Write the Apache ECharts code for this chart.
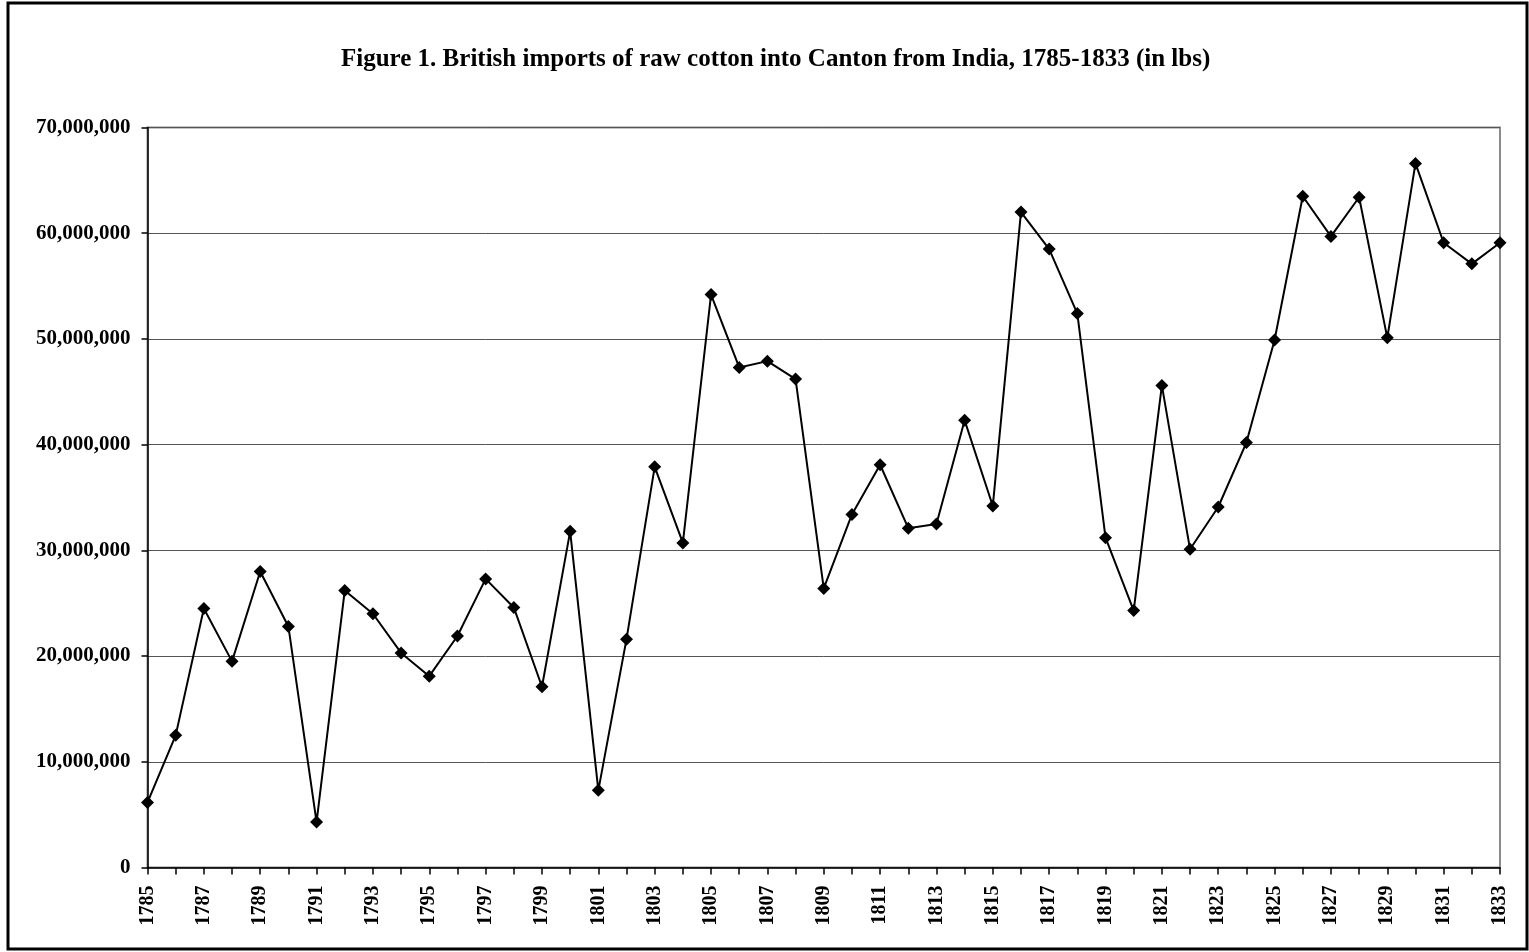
<!DOCTYPE html>
<html>
<head>
<meta charset="utf-8">
<title>British imports of raw cotton into Canton</title>
<script src="https://cdn.jsdelivr.net/npm/echarts@6/dist/echarts.min.js"></script>
<style>
    html, body { margin: 0; padding: 0; background: #fff; }
    #chart { width: 1529px; height: 952px; }
</style>
</head>
<body>
<div id="chart"></div>
<script>
// years 1785 - 1833
var years = [];
for (var y = 1785; y <= 1833; y++) {
    years.push(String(y));
}

// raw cotton imports, lbs
var imports = [
    6150000, 12500000, 24500000, 19500000, 28000000, 22800000, 4300000, 26200000, 24000000, 20300000,
    18100000, 21900000, 27300000, 24600000, 17100000, 31800000, 7300000, 21600000, 37900000, 30700000,
    54200000, 47300000, 47900000, 46200000, 26400000, 33400000, 38100000, 32100000, 32500000, 42300000,
    34200000, 62000000, 58500000, 52400000, 31200000, 24300000, 45600000, 30100000, 34100000, 40200000,
    49900000, 63500000, 59700000, 63400000, 50100000, 66600000, 59100000, 57100000, 59100000
];

var fontFamily = '"Liberation Serif", "Times New Roman", serif';

var myChart = echarts.init(document.getElementById('chart'));

myChart.setOption({
    animation: false,
    backgroundColor: '#fff',
    title: {
        text: 'Figure 1. British imports of raw cotton into Canton from India, 1785-1833 (in lbs)',
        left: 336,
        top: 42,
        textStyle: {
            fontFamily: fontFamily,
            fontWeight: 'bold',
            fontSize: 25,
            color: '#000'
        }
    },
    graphic: [{
        type: 'rect',
        shape: { x: 8, y: 3, width: 1519, height: 946 },
        style: { fill: 'none', stroke: '#000', lineWidth: 3 },
        silent: true
    }],
    grid: {
        left: 147.5,
        right: 29,
        top: 127.5,
        bottom: 84.5,
        show: true,
        borderColor: '#8c8c8c',
        borderWidth: 2,
        backgroundColor: 'transparent'
    },
    xAxis: {
        type: 'category',
        data: years,
        boundaryGap: false,
        axisLine: { lineStyle: { color: '#000', width: 1.5 } },
        axisTick: {
            show: true,
            interval: 0,
            length: 7,
            lineStyle: { color: '#000', width: 1.5 }
        },
        axisLabel: {
            interval: 1,
            rotate: 90,
            margin: 18,
            fontFamily: fontFamily,
            fontWeight: 'bold',
            fontSize: 20,
            color: '#000'
        },
        splitLine: { show: false }
    },
    yAxis: {
        type: 'value',
        min: 0,
        max: 70000000,
        interval: 10000000,
        axisLine: { show: true, lineStyle: { color: '#000', width: 1.5 } },
        axisTick: { show: true, length: 6, lineStyle: { color: '#000', width: 1.5 } },
        axisLabel: {
            margin: 17,
            fontFamily: fontFamily,
            fontWeight: 'bold',
            fontSize: 21,
            color: '#000',
            formatter: function (v) {
                return v.toString().replace(/\B(?=(\d{3})+(?!\d))/g, ',');
            }
        },
        splitLine: { show: true, lineStyle: { color: '#555', width: 1 } }
    },
    series: [{
        type: 'line',
        data: imports,
        symbol: 'diamond',
        symbolSize: 13,
        showAllSymbol: true,
        itemStyle: { color: '#000' },
        lineStyle: { color: '#000', width: 2 },
        z: 5
    }]
});
</script>
</body>
</html>
